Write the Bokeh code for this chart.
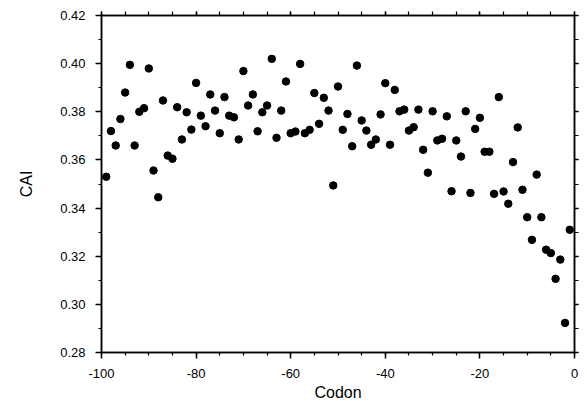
from bokeh.plotting import figure
from bokeh.models import (LinearAxis, SingleIntervalTicker, ColumnDataSource,
                          NumeralTickFormatter, CustomJSTickFormatter)
from bokeh.embed import file_html
from bokeh.resources import INLINE

codon = list(range(-99, 0))
cai = [
    0.353, 0.372, 0.366, 0.377, 0.388, 0.3995, 0.366, 0.380, 0.3815, 0.398,   # -99..-90
    0.3556, 0.3445, 0.3847, 0.3618, 0.3605, 0.3819, 0.3685, 0.3798, 0.3726, 0.392,  # -89..-80
    0.3784, 0.374, 0.3872, 0.3805, 0.3711, 0.3861, 0.3784, 0.3777, 0.3685, 0.3969,  # -79..-70
    0.3826, 0.3872, 0.3719, 0.3798, 0.3826, 0.402, 0.3692, 0.3805, 0.3926, 0.3711,  # -69..-60
    0.3718, 0.3999, 0.3711, 0.3725, 0.3878, 0.375, 0.3858, 0.3805, 0.3494, 0.3905,  # -59..-50
    0.3725, 0.3791, 0.3657, 0.3992, 0.3764, 0.3722, 0.3663, 0.3685, 0.3789, 0.3919,  # -49..-40
    0.3663, 0.3891, 0.3802, 0.3809, 0.3722, 0.3736, 0.3809, 0.3642, 0.3547, 0.3802,  # -39..-30
    0.3681, 0.3688, 0.3781, 0.347, 0.3681, 0.3614, 0.3802, 0.3463, 0.3729, 0.3775,  # -29..-20
    0.3634, 0.3634, 0.3459, 0.3861, 0.3469, 0.3418, 0.3591, 0.3735, 0.3476, 0.3362,  # -19..-10
    0.3268, 0.3539, 0.3362, 0.3227, 0.3213, 0.3106, 0.3186, 0.2923, 0.331,          # -9..-1
]

x_tick_values = [-100, -80, -60, -40, -20, 0]
x_tick_labels = ["-100", "-80", "-60", "-40", "-20", "0"]

FONT = "Liberation Sans"

src = ColumnDataSource(dict(x=codon, y=cai))

p = figure(width=579, height=403, x_range=(-100, 0), y_range=(0.28, 0.42),
           output_backend="svg", toolbar_location=None,
           min_border_left=101, min_border_right=5, min_border_top=15, min_border_bottom=51,
           x_axis_label="Codon", y_axis_label="CAI")
p.xgrid.visible = False
p.ygrid.visible = False
p.outline_line_color = "black"
p.outline_line_width = 1.5
p.background_fill_color = "white"
p.border_fill_color = "white"

p.scatter("x", "y", source=src, size=7.5, color="black", marker="circle")

def style(ax, labels=True):
    ax.axis_line_width = 1.5
    ax.axis_line_color = "black"
    ax.major_tick_line_width = 1.5
    ax.major_tick_line_color = "black"
    ax.minor_tick_line_width = 1.2
    ax.minor_tick_line_color = "black"
    ax.major_tick_out = 6
    ax.major_tick_in = 0
    ax.minor_tick_out = 3
    ax.minor_tick_in = 0
    if labels:
        ax.major_label_text_font = FONT
        ax.major_label_text_font_size = "13px"
        ax.major_label_text_color = "black"
        ax.axis_label_text_font = FONT
        ax.axis_label_text_font_size = "16px"
        ax.axis_label_text_font_style = "normal"
        ax.axis_label_text_color = "black"
    else:
        ax.formatter = CustomJSTickFormatter(code="return ''")
        ax.major_label_standoff = 0
        ax.major_tick_out = 4
        ax.minor_tick_out = 4

xa = p.xaxis[0]
xa.ticker = SingleIntervalTicker(interval=20, num_minor_ticks=4)
style(xa)
xa.major_label_overrides = {v: l for v, l in zip(x_tick_values, x_tick_labels)}
xa.major_label_standoff = 10
xa.axis_label_standoff = 3

ya = p.yaxis[0]
ya.ticker = SingleIntervalTicker(interval=0.02, num_minor_ticks=2)
style(ya)
ya.formatter = NumeralTickFormatter(format="0.00")
ya.major_label_standoff = 10
ya.axis_label_standoff = 22

top = LinearAxis(ticker=SingleIntervalTicker(interval=20, num_minor_ticks=4))
style(top, labels=False)
p.add_layout(top, "above")
right = LinearAxis(ticker=SingleIntervalTicker(interval=0.02, num_minor_ticks=2))
style(right, labels=False)
p.add_layout(right, "right")

open("out.html", "w").write(file_html(p, INLINE))
